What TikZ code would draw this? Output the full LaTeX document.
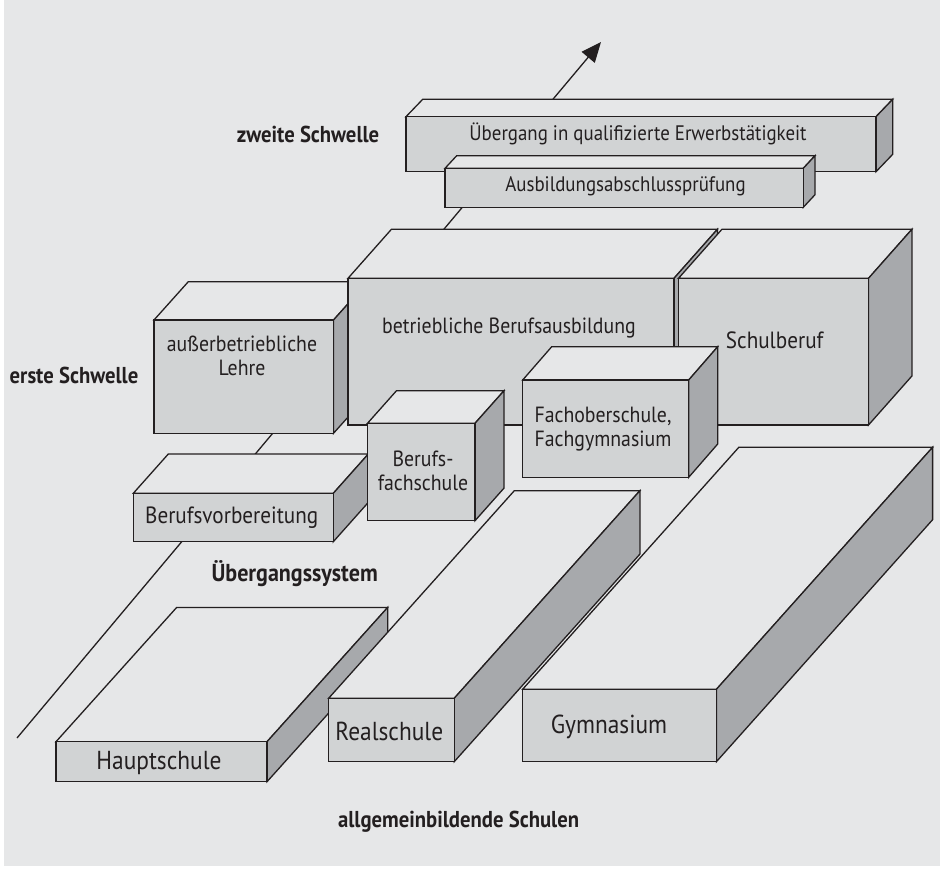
\documentclass[tikz,border=0pt]{standalone}
\usepackage{fontspec}
\setmainfont{PT Sans}[FakeStretch=0.9]
\usetikzlibrary{arrows.meta}
\definecolor{bgc}{HTML}{E6E7E8}
\definecolor{topc}{HTML}{E6E7E8}
\definecolor{frontc}{HTML}{D1D3D4}
\definecolor{sidec}{HTML}{A7A9AC}
\definecolor{inkc}{HTML}{231F20}
\tikzset{
  face/.style={draw=inkc, line width=1.3pt, line join=miter},
  boxtext/.style={inner sep=0pt, align=center, text=inkc, font=\fontsize{22}{25}\selectfont},
  smalltext/.style={boxtext, font=\fontsize{21}{24}\selectfont},
  bigtext/.style={boxtext, font=\fontsize{26}{29}\selectfont},
  headtext/.style={inner sep=0pt, align=center, text=inkc, font=\fontsize{23}{26}\selectfont\bfseries},
}
% #1 x, #2 y (top of front face), #3 width, #4 height, #5 depth dx, #6 depth up
\newcommand\drawcuboid[6]{%
  \filldraw[face, fill=topc] (#1,#2) -- (#1+#5,#2-#6) -- (#1+#3+#5,#2-#6) -- (#1+#3,#2) -- cycle;
  \filldraw[face, fill=sidec] (#1+#3,#2) -- (#1+#3+#5,#2-#6) -- (#1+#3+#5,#2+#4-#6) -- (#1+#3,#2+#4) -- cycle;
  \filldraw[face, fill=frontc] (#1,#2) rectangle (#1+#3,#2+#4);
}
\begin{document}
\begin{tikzpicture}[x=1pt,y=-1pt]
\useasboundingbox (0,0) rectangle (940,868);
\fill[bgc] (4,0) rectangle (940,866);

% long arrow behind everything
\coordinate (arrowstart) at (17,738);
\coordinate (arrowtip) at (601,42);
\draw[inkc, line width=1.3pt, -{Triangle[length=20pt,width=17pt]}] (arrowstart) -- (arrowtip);

% upper boxes
\drawcuboid{406}{116.7}{470}{55}{16.7}{17.4}
\drawcuboid{445}{168.3}{358.3}{39}{11.7}{12.6}
\node[smalltext] (uebergang) at (638,134.3) {Übergang in qualifizierte Erwerbstätigkeit};
\node[smalltext] (abschluss) at (625.5,186.7) {Ausbildungsabschlussprüfung};

% middle boxes
\drawcuboid{154}{320}{179.5}{113.3}{34.3}{38.3}
\drawcuboid{348}{278.3}{326}{146.7}{43.4}{49}
\drawcuboid{678.5}{278.3}{190}{146.7}{43.4}{49}
\node[boxtext] (ausserbetr) at (242,356) {außerbetriebliche\\[-1pt]Lehre};
\node[boxtext] (betrieblich) at (509,328.3) {betriebliche Berufsausbildung};
\node[boxtext, font=\fontsize{23.5}{26}\selectfont] (schulberuf) at (774.7,340) {Schulberuf};

\drawcuboid{133.3}{493.3}{200}{48.4}{35}{39.3}
\drawcuboid{367.5}{423.3}{107.5}{97.4}{29}{32.6}
\drawcuboid{522.7}{380}{166}{97.3}{29}{33.3}
\node[boxtext, font=\fontsize{23.5}{26}\selectfont] (vorbereitung) at (231.7,517.3) {Berufsvorbereitung};
\node[boxtext] (fachschule) at (423,470.8) {Berufs-\\[-1pt]fachschule};
\node[boxtext] (fachober) at (603,429) {Fachoberschule,\\[-1pt]Fachgymnasium};

% lower boxes
\drawcuboid{56}{741.7}{211}{40}{120.7}{134.3}
\drawcuboid{328.6}{698.3}{125.6}{63.4}{185.7}{207.6}
\drawcuboid{522.6}{689.3}{193.8}{72.4}{216.2}{242}
\node[bigtext] (haupt) at (159,762.7) {Hauptschule};
\node[bigtext] (real) at (389.3,731.7) {Realschule};
\node[bigtext] (gym) at (609,727.3) {Gymnasium};

% labels
\node[headtext] (zweite) at (308,134.3) {zweite Schwelle};
\node[headtext] (erste) at (74,375) {erste Schwelle};
\node[headtext, font=\fontsize{24.5}{27}\selectfont\bfseries] (system) at (294.7,573.3) {Übergangssystem};
\node[headtext] (allg) at (458.6,821.7) {allgemeinbildende Schulen};
\end{tikzpicture}
\end{document}
